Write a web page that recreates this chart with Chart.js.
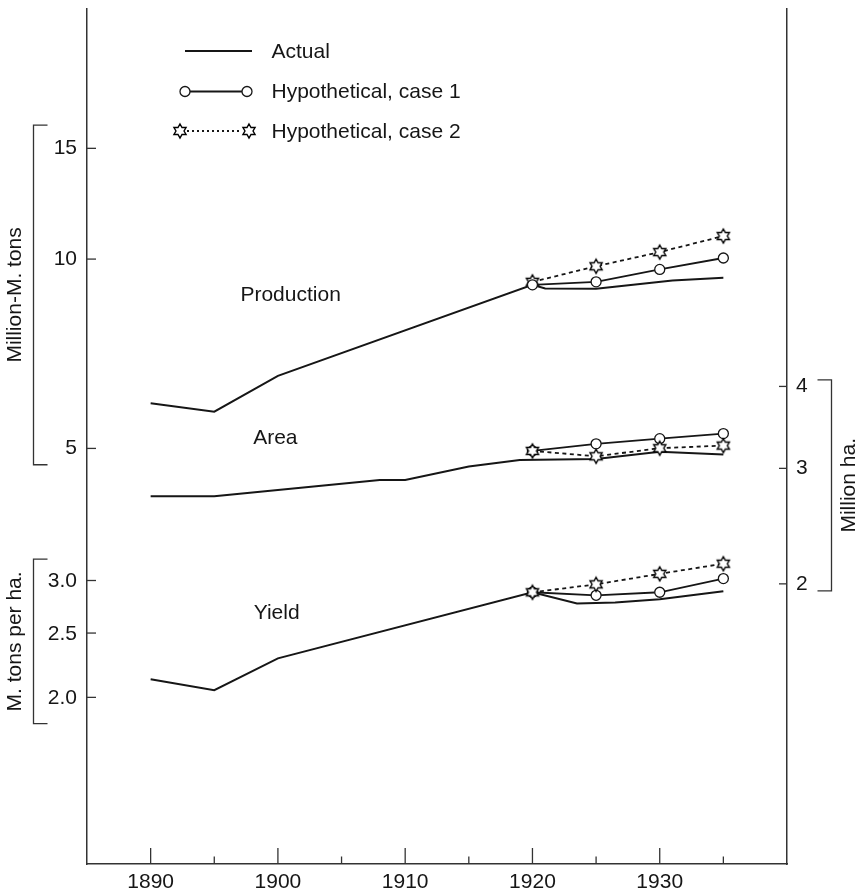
<!DOCTYPE html>
<html>
<head>
<meta charset="utf-8">
<title>Production, Area and Yield</title>
<script src="https://cdn.jsdelivr.net/npm/chart.js@4.4.1/dist/chart.umd.min.js"></script>
<style>
  html, body { margin: 0; padding: 0; background: #fff; }
  canvas { display: block; }
</style>
</head>
<body>
<canvas id="grafica" width="864" height="896"></canvas>
<script>
// ========== DATA ==========
const hypoYears = [1920, 1925, 1930, 1935];

const prodYears = [1890, 1895, 1900, 1920, 1921, 1925, 1931, 1935];
const prodActual = [5.90, 5.72, 6.52, 9.10, 8.98, 8.97, 9.25, 9.34];
const prodCase1 = [9.10, 9.20, 9.63, 10.04];
const prodCase2 = [9.20, 9.74, 10.26, 10.88];

const areaYears = [1890, 1895, 1908, 1910, 1915, 1919, 1925, 1930, 1935];
const areaActual = [2.72, 2.72, 2.88, 2.88, 3.02, 3.09, 3.10, 3.18, 3.15];
const areaCase1 = [3.19, 3.27, 3.33, 3.39];
const areaCase2 = [3.19, 3.13, 3.22, 3.25];

const yieldYears = [1890, 1895, 1900, 1920, 1923.5, 1926.5, 1930, 1935];
const yieldActual = [2.13, 2.05, 2.29, 2.88, 2.77, 2.78, 2.81, 2.89];
const yieldCase1 = [2.88, 2.85, 2.88, 3.02];
const yieldCase2 = [2.88, 2.96, 3.07, 3.18];

const xTicks = [1890, 1900, 1910, 1920, 1930];
const prodTicks = [5, 10, 15];
const yieldTicks = [2.0, 2.5, 3.0];
const areaTicks = [2, 3, 4];

const legendLabels = ['Actual', 'Hypothetical, case 1', 'Hypothetical, case 2'];

// ========== STYLE ==========
const ink = '#161616';
const axisInk = '#333';
const family = '"Liberation Sans", Arial, Helvetica, sans-serif';
const fontSize = 21;
Chart.defaults.font.family = family;
Chart.defaults.color = ink;

function crearEstrella(r) {
  const size = Math.ceil(r * 2 + 4);
  const c = document.createElement('canvas');
  c.width = size;
  c.height = size;
  const g = c.getContext('2d');
  const cx = size / 2, cy = size / 2;
  g.beginPath();
  for (let i = 0; i < 12; i++) {
    const ang = -Math.PI / 2 + i * Math.PI / 6;
    const rad = i % 2 === 0 ? r : r / Math.sqrt(3);
    const px = cx + rad * Math.cos(ang);
    const py = cy + rad * Math.sin(ang);
    if (i === 0) g.moveTo(px, py); else g.lineTo(px, py);
  }
  g.closePath();
  g.fillStyle = '#fff';
  g.fill();
  g.strokeStyle = '#000';
  g.lineWidth = 1.4;
  g.stroke();
  return c;
}
const estrella = crearEstrella(7);

const estilos = {
  actual: { borderColor: ink, borderWidth: 2, pointRadius: 0, order: 5 },
  caso1: {
    borderColor: ink, borderWidth: 1.8, pointStyle: 'circle', pointRadius: 5,
    pointBackgroundColor: '#fff', pointBorderColor: ink, pointBorderWidth: 1.3
  },
  caso2: { borderColor: ink, borderWidth: 1.8, borderDash: [4, 3.5], pointStyle: estrella, pointRadius: 7 }
};

function puntos(xs, ys) {
  return xs.map((x, i) => ({ x: x, y: ys[i] }));
}

function serie(label, xs, ys, eje, estilo, orden) {
  return Object.assign({ label: label, data: puntos(xs, ys), yAxisID: eje, tension: 0, fill: false },
    estilos[estilo], orden !== undefined ? { order: orden } : {});
}

const datasets = [
  serie('Production actual', prodYears, prodActual, 'yProd', 'actual'),
  serie('Production case 1', hypoYears, prodCase1, 'yProd', 'caso1', 0),
  serie('Production case 2', hypoYears, prodCase2, 'yProd', 'caso2', 1),
  serie('Area actual', areaYears, areaActual, 'yArea', 'actual'),
  serie('Area case 1', hypoYears, areaCase1, 'yArea', 'caso1', 1),
  serie('Area case 2', hypoYears, areaCase2, 'yArea', 'caso2', 0),
  serie('Yield actual', yieldYears, yieldActual, 'yYield', 'actual'),
  serie('Yield case 1', hypoYears, yieldCase1, 'yYield', 'caso1', 1),
  serie('Yield case 2', hypoYears, yieldCase2, 'yYield', 'caso2', 0)
];

// ========== DECORATION: inner ticks, brackets, titles, labels, legend ==========
function linea(ctx, x1, y1, x2, y2) {
  ctx.beginPath();
  ctx.moveTo(x1, y1);
  ctx.lineTo(x2, y2);
  ctx.stroke();
}

function corchete(ctx, scale, desde, hasta, xv, xh) {
  const y1 = scale.getPixelForValue(hasta);
  const y2 = scale.getPixelForValue(desde);
  ctx.beginPath();
  ctx.moveTo(xh, y1);
  ctx.lineTo(xv, y1);
  ctx.lineTo(xv, y2);
  ctx.lineTo(xh, y2);
  ctx.stroke();
  return (y1 + y2) / 2;
}

function tituloVertical(ctx, text, x, y) {
  ctx.save();
  ctx.translate(x, y);
  ctx.rotate(-Math.PI / 2);
  ctx.textAlign = 'center';
  ctx.textBaseline = 'middle';
  ctx.fillText(text, 0, 0);
  ctx.restore();
}

const decoracion = {
  id: 'decoracion',
  afterDraw(chart) {
    const { ctx, chartArea: area } = chart;
    const { x, yProd, yYield, yArea } = chart.scales;
    ctx.save();
    ctx.strokeStyle = axisInk;
    ctx.fillStyle = ink;
    ctx.lineWidth = 1.3;
    ctx.font = fontSize + 'px ' + family;

    // x ticks pointing inward
    x.ticks.forEach(t => {
      if (t.value <= x.min || t.value >= x.max) return;
      const px = x.getPixelForValue(t.value);
      const len = t.value % 10 === 0 ? 16 : 7.5;
      linea(ctx, px, area.bottom, px, area.bottom - len);
    });

    // left ticks: production and yield
    prodTicks.forEach(v => {
      const py = yProd.getPixelForValue(v);
      linea(ctx, area.left, py, area.left + 9, py);
    });
    ctx.textAlign = 'right';
    ctx.textBaseline = 'middle';
    yieldTicks.forEach(v => {
      const py = yYield.getPixelForValue(v);
      linea(ctx, area.left, py, area.left + 9, py);
      ctx.fillText(v.toFixed(1), area.left - 10, py + 1);
    });

    // right ticks: area
    areaTicks.forEach(v => {
      const py = yArea.getPixelForValue(v);
      linea(ctx, area.right, py, area.right - 8, py);
    });

    // brackets with unit titles
    const m1 = corchete(ctx, yProd, 4.71, 16.33, 33.5, 47.5);
    const m2 = corchete(ctx, yYield, 1.826, 3.23, 33.5, 47.5);
    const m3 = corchete(ctx, yArea, 1.952, 4.094, 831.5, 817.5);
    tituloVertical(ctx, 'Million-M. tons', 15.5, m1);
    tituloVertical(ctx, 'M. tons per ha.', 15.5, m2);
    tituloVertical(ctx, 'Million ha.', 849, m3);

    // curve labels
    ctx.textAlign = 'center';
    ctx.fillText('Production', x.getPixelForValue(1901), yProd.getPixelForValue(8.77));
    ctx.fillText('Area', x.getPixelForValue(1899.8), yArea.getPixelForValue(3.33));
    ctx.fillText('Yield', x.getPixelForValue(1899.9), yYield.getPixelForValue(2.68));

    // legend
    const filas = [51, 91.5, 131];
    ctx.strokeStyle = ink;
    ctx.textAlign = 'left';
    legendLabels.forEach((txt, i) => {
      const y = filas[i];
      ctx.lineWidth = 1.8;
      if (i === 0) {
        linea(ctx, 185, y, 252, y);
      } else if (i === 1) {
        linea(ctx, 185, y, 247, y);
        [185, 247].forEach(cx => {
          ctx.beginPath();
          ctx.arc(cx, y, 5, 0, Math.PI * 2);
          ctx.fillStyle = '#fff';
          ctx.fill();
          ctx.lineWidth = 1.3;
          ctx.stroke();
        });
      } else {
        ctx.setLineDash([2, 3]);
        linea(ctx, 187, y, 242, y);
        ctx.setLineDash([]);
        [180, 249].forEach(cx => ctx.drawImage(estrella, cx - estrella.width / 2, y - estrella.height / 2));
      }
      ctx.fillStyle = ink;
      ctx.fillText(txt, 271.5, y + 1);
    });
    ctx.restore();
  }
};

// ========== CHART ==========
const ejeY = (pos, min, max, ticks, ancho, mostrar) => ({
  type: 'logarithmic',
  position: pos,
  display: mostrar,
  min: min,
  max: max,
  bounds: 'data',
  grid: { display: false, drawTicks: false },
  border: { display: true, color: axisInk, width: 1.5 },
  ticks: {
    padding: pos === 'left' ? 10 : 9,
    color: ink,
    font: { size: fontSize },
    callback: v => String(v)
  },
  afterBuildTicks: s => { s.ticks = ticks.map(v => ({ value: v })); },
  afterFit: s => {
    s.width = mostrar ? ancho : 0;
    s.paddingTop = 0;
    s.paddingBottom = 0;
  }
});

new Chart(document.getElementById('grafica'), {
  type: 'line',
  data: { datasets: datasets },
  options: {
    responsive: false,
    animation: false,
    events: [],
    layout: { padding: { top: 6, left: 0, right: 0, bottom: 0 } },
    plugins: {
      legend: { display: false },
      tooltip: { enabled: false }
    },
    scales: {
      x: {
        type: 'linear',
        min: 1885,
        max: 1940,
        grid: { display: false, drawTicks: false },
        border: { display: true, color: axisInk, width: 1.5 },
        ticks: {
          stepSize: 5,
          autoSkip: false,
          maxRotation: 0,
          padding: 6,
          color: ink,
          font: { size: fontSize },
          callback: v => xTicks.includes(v) ? String(v) : ''
        },
        afterFit: s => {
          s.height = 32;
          s.paddingLeft = 0;
          s.paddingRight = 0;
        }
      },
      yProd: ejeY('left', 1.092, 25.0, prodTicks, 87, true),
      yYield: ejeY('left', 1.122, 21.8, yieldTicks, 0, false),
      yArea: ejeY('right', 0.748, 15.06, areaTicks, 77, true)
    }
  },
  plugins: [decoracion]
});
</script>
</body>
</html>
